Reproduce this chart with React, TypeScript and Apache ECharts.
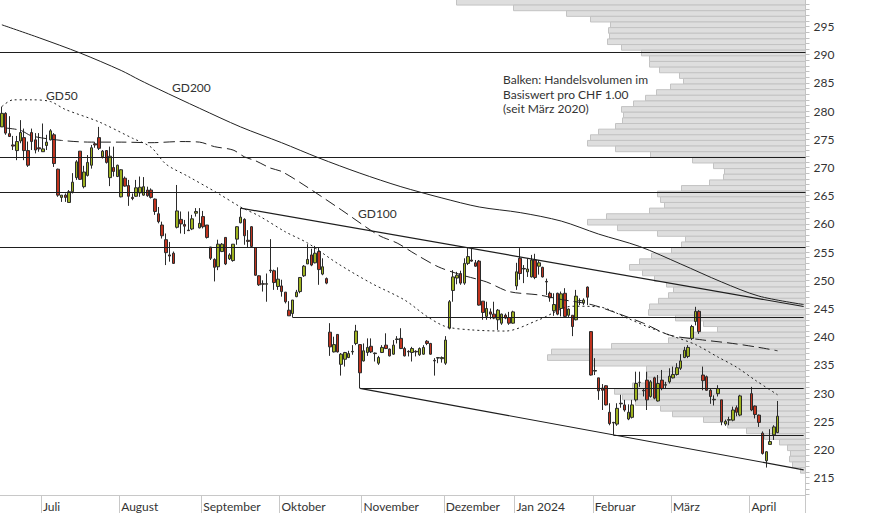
import React, { useEffect, useRef } from "react";
import * as echarts from "echarts";

// ---------- DATA ----------
// candles: [open, high, low, close]
const juneCandles = [
  [277.2, 280.8, 277.2, 279.6], [279.6, 279.8, 275.8, 276.1], [276.0, 279.1, 275.4, 275.5],
  [274.0, 275.6, 273.1, 273.8], [273.0, 275.6, 271.3, 274.6], [274.7, 278.4, 274.3, 276.2],
  [275.3, 276.9, 271.3, 273.0], [273.0, 274.6, 270.1, 270.4], [276.2, 276.9, 273.1, 274.6],
  [274.9, 276.1, 272.5, 273.1], [273.5, 276.1, 272.8, 273.3],
];
const julyCandles = [
  [272.8, 277.8, 272.8, 273.3], [273.9, 275.8, 273.1, 274.5], [274.9, 276.8, 274.8, 276.5],
  [275.8, 276.1, 270.1, 270.7], [269.7, 269.8, 264.8, 265.1], [264.7, 265.1, 263.9, 265.1],
  [265.1, 265.4, 263.9, 264.7], [263.8, 266.0, 263.8, 265.7], [265.7, 269.0, 265.4, 267.4],
  [268.2, 271.3, 267.8, 271.0], [272.9, 272.9, 267.8, 267.9], [266.6, 270.3, 266.3, 269.2],
  [268.6, 272.2, 268.4, 270.9], [270.4, 274.0, 269.8, 273.5], [274.2, 274.5, 273.5, 274.0],
  [275.3, 277.2, 273.1, 273.4], [271.9, 273.1, 271.6, 272.9], [273.0, 273.1, 270.7, 270.9],
  [268.2, 273.7, 266.7, 272.0], [270.0, 273.7, 268.4, 269.3], [268.4, 270.5, 268.3, 270.4],
];
const augustCandles = [
  [264.8, 269.7, 264.7, 269.6], [268.1, 268.4, 266.6, 266.7], [266.8, 267.8, 263.2, 264.9],
  [264.7, 265.4, 264.2, 264.5], [264.9, 267.8, 264.8, 266.4], [265.5, 268.4, 264.8, 266.5],
  [265.1, 268.3, 265.0, 266.6], [266.0, 266.6, 264.8, 265.0], [266.0, 266.3, 264.5, 264.7],
  [264.4, 264.5, 261.6, 262.2], [261.8, 263.0, 260.1, 260.4], [259.8, 260.4, 257.4, 257.9],
  [257.2, 258.3, 252.7, 254.9], [254.5, 256.8, 253.3, 254.3], [254.8, 255.1, 252.9, 253.0],
  [259.4, 266.9, 259.2, 262.3], [260.8, 262.2, 258.3, 260.0], [259.9, 260.7, 258.2, 259.6],
  [258.9, 262.2, 258.8, 258.8], [259.1, 261.6, 258.9, 260.9], [261.9, 262.8, 261.3, 262.2],
  [259.3, 262.8, 259.2, 260.1],
];
const septemberCandles = [
  [261.3, 262.3, 259.2, 259.5], [259.8, 259.8, 257.4, 257.6], [255.9, 255.9, 253.6, 253.9],
  [253.7, 253.9, 249.8, 252.3], [252.4, 257.2, 251.8, 256.4], [255.1, 256.6, 255.0, 256.4],
  [257.6, 257.6, 252.7, 252.9], [253.8, 254.8, 253.6, 254.5], [253.5, 256.4, 253.3, 256.4],
  [257.3, 259.6, 256.3, 259.5], [260.2, 262.8, 260.1, 261.2], [260.8, 261.0, 256.3, 257.9],
  [257.1, 258.9, 255.9, 256.9], [259.5, 259.6, 255.8, 256.0], [255.8, 255.8, 250.8, 250.9],
  [250.8, 250.9, 249.0, 249.2], [249.4, 250.0, 248.0, 249.3], [249.3, 251.2, 246.2, 249.4],
  [251.8, 257.3, 251.3, 251.7], [251.7, 251.9, 248.3, 249.6], [248.9, 252.3, 248.3, 250.2],
];
const octoberCandles = [
  [249.0, 250.1, 247.1, 248.0], [247.9, 247.9, 245.9, 246.2], [244.7, 246.3, 243.7, 243.7],
  [244.1, 246.5, 243.4, 246.5], [247.1, 248.3, 247.0, 247.9], [248.0, 250.5, 247.7, 250.5],
  [250.8, 252.7, 250.6, 252.5], [252.9, 256.4, 252.9, 253.7], [254.5, 255.6, 252.5, 252.7],
  [253.1, 256.1, 253.0, 254.8], [255.1, 255.8, 249.2, 251.9], [251.1, 253.9, 250.9, 252.4],
  [250.3, 250.5, 249.3, 249.5], [240.8, 242.4, 236.6, 238.2], [237.3, 240.0, 237.2, 238.6],
  [240.4, 240.4, 237.2, 237.3], [235.1, 237.1, 233.1, 236.9], [236.0, 237.3, 234.7, 237.2],
  [236.3, 237.5, 236.2, 237.0], [237.3, 238.5, 236.8, 237.4], [238.8, 242.1, 238.5, 241.0],
  [238.6, 238.6, 230.85, 233.6],
];
const novemberCandles = [
  [235.7, 238.8, 235.6, 237.5], [237.2, 239.7, 236.6, 238.1], [238.3, 239.7, 237.1, 237.3],
  [237.1, 237.2, 235.6, 237.0], [235.3, 236.6, 235.0, 236.3], [237.2, 238.5, 237.1, 238.1],
  [238.5, 240.6, 237.8, 237.9], [237.8, 237.9, 236.5, 236.6], [236.9, 239.4, 236.8, 238.5],
  [239.5, 240.1, 238.8, 239.6], [239.7, 241.5, 237.8, 237.9], [237.9, 238.2, 236.5, 236.6],
  [237.4, 237.6, 236.5, 237.3], [237.2, 238.2, 235.6, 237.9], [237.4, 237.6, 236.5, 237.3],
  [236.8, 238.1, 236.6, 237.9], [236.9, 238.5, 236.8, 238.1], [239.2, 239.4, 238.5, 238.8],
  [238.8, 238.9, 236.8, 236.9], [235.8, 236.2, 233.1, 235.7], [236.2, 236.4, 235.3, 236.3],
  [236.1, 236.5, 235.4, 236.3],
];
const decemberCandles = [
  [235.3, 240.1, 235.0, 239.4], [241.5, 246.5, 241.3, 246.2], [248.2, 251.8, 246.2, 250.6],
  [250.4, 251.5, 249.3, 250.9], [251.2, 251.7, 249.2, 249.5], [249.5, 253.9, 249.2, 253.0],
  [253.0, 255.7, 252.7, 254.2], [253.6, 255.7, 253.3, 253.4], [253.1, 253.6, 252.4, 252.5],
  [253.4, 253.6, 245.5, 245.6], [246.3, 246.3, 243.0, 244.3], [243.6, 246.2, 243.0, 245.0],
  [244.4, 245.0, 243.1, 244.0], [244.0, 246.2, 243.1, 243.3], [243.0, 244.9, 241.2, 244.7],
  [242.4, 244.1, 242.1, 244.0], [243.8, 244.1, 243.1, 243.3], [243.4, 244.4, 242.1, 242.4],
  [242.4, 244.6, 242.3, 244.4],
];
const januaryCandles = [
  [249.0, 253.1, 248.3, 251.5], [253.9, 255.7, 250.1, 251.2], [252.1, 252.7, 249.5, 252.0],
  [251.5, 253.9, 250.6, 252.0], [250.6, 254.5, 250.5, 253.6], [253.6, 254.7, 250.2, 250.5],
  [252.5, 253.6, 251.0, 253.1], [252.3, 252.4, 250.5, 250.6], [249.8, 250.3, 247.4, 249.7],
  [247.7, 248.0, 246.2, 246.9], [244.6, 247.7, 243.7, 245.7], [247.7, 247.8, 243.8, 244.0],
  [245.0, 248.0, 243.6, 247.6], [247.7, 248.6, 243.4, 243.6], [243.8, 245.0, 243.4, 244.9],
  [243.8, 243.8, 240.1, 241.8], [243.0, 248.3, 242.9, 247.2], [246.4, 246.8, 245.6, 246.4],
  [246.0, 246.8, 245.6, 246.5], [248.8, 248.9, 245.6, 247.0], [240.9, 241.0, 233.1, 233.2],
];
const februaryCandles = [
  [234.0, 236.2, 233.2, 233.9], [232.7, 232.7, 228.8, 230.4], [230.9, 231.6, 227.0, 230.5],
  [231.3, 231.4, 227.8, 227.9], [226.6, 228.2, 224.3, 224.6], [224.8, 224.9, 222.6, 224.7],
  [224.5, 228.2, 224.2, 227.3], [228.2, 229.7, 227.4, 228.1], [227.9, 228.8, 226.7, 227.0],
  [225.4, 228.0, 225.2, 226.6], [225.7, 228.8, 225.5, 227.9], [228.8, 233.8, 228.5, 231.7],
  [231.9, 233.8, 231.1, 231.9], [230.5, 230.9, 229.4, 230.4], [232.3, 233.8, 227.0, 228.8],
  [229.4, 232.3, 229.2, 232.0], [232.7, 232.9, 228.9, 229.1], [228.6, 233.2, 228.5, 231.7],
  [232.3, 234.1, 230.5, 230.8], [231.4, 232.0, 230.8, 231.5], [232.0, 234.4, 231.7, 233.0],
];
const marchCandles = [
  [232.7, 234.7, 232.6, 233.3], [233.3, 235.3, 233.1, 234.5], [234.4, 236.9, 234.1, 235.7],
  [236.3, 238.2, 236.2, 237.6], [236.5, 238.5, 236.2, 238.1], [239.7, 242.1, 239.4, 241.8],
  [242.7, 245.3, 242.0, 244.5], [244.5, 244.7, 240.5, 240.9], [233.2, 234.7, 230.5, 232.2],
  [232.9, 233.1, 230.4, 230.5], [230.5, 230.8, 228.1, 229.4], [228.9, 229.6, 227.8, 228.8],
  [229.9, 231.4, 229.4, 230.8], [228.8, 228.8, 224.3, 224.9], [224.5, 225.3, 224.2, 225.0],
  [225.2, 225.8, 224.3, 225.3], [225.2, 227.6, 225.0, 227.0], [227.4, 227.8, 225.9, 226.6],
  [226.1, 229.7, 225.9, 229.5], null, null,
];
const aprilCandles = [
  [229.9, 231.1, 226.8, 227.0], [227.7, 227.8, 225.5, 226.2], [226.1, 226.2, 224.0, 224.8],
  [222.9, 223.2, 219.1, 219.3], [218.0, 219.7, 216.8, 219.6], [220.9, 223.6, 220.9, 221.4],
  [222.6, 224.3, 221.7, 224.0], [223.0, 228.6, 222.9, 225.9],
];

// moving averages (trading-day slot index, value)
const gd50Slots = [0, 3, 8, 13, 17, 26, 35, 40, 44, 50, 58, 64, 69, 76, 82, 90, 99, 108, 114, 119, 126, 135, 144, 153, 160, 168, 173, 179, 186, 192, 197, 202, 208];
const gd50Values = [280.8, 282.0, 282.0, 281.7, 280.3, 278.1, 275.2, 273.6, 270.6, 268.4, 265.4, 263.0, 261.4, 258.6, 256.6, 253.0, 249.5, 246.5, 243.6, 241.8, 241.2, 241.0, 243.0, 245.4, 245.3, 243.2, 241.8, 240.3, 238.6, 236.4, 234.6, 232.3, 229.7];
const gd100Slots = [1, 5, 8, 16, 24, 32, 40, 48, 53, 57, 62, 65, 68, 72, 75, 81, 91, 101, 106, 111, 117, 123, 130, 136, 144, 150, 158, 164, 172, 179, 187, 196, 203, 208];
const gd100Values = [277.0, 276.6, 275.6, 274.8, 274.5, 274.5, 274.4, 274.6, 274.5, 273.7, 273.1, 271.9, 271.2, 269.9, 269.3, 266.9, 262.5, 258.0, 256.6, 254.6, 252.4, 251.0, 249.7, 248.0, 247.4, 246.6, 245.7, 244.4, 242.4, 240.3, 239.5, 238.8, 238.1, 237.5];
const gd200Slots = [0, 10, 21, 32, 37, 42, 53, 64, 75, 85, 96, 107, 118, 128, 139, 150, 160, 171, 182, 193, 203, 215];
const gd200Values = [295.3, 293.0, 290.3, 287.2, 285.5, 283.9, 280.5, 277.2, 274.4, 271.7, 269.0, 266.6, 264.6, 263.0, 262.0, 260.5, 258.2, 256.0, 252.9, 249.7, 247.2, 245.7];

// volume profile (price level, traded volume per CHF 1.00)
const volumeLevels = [
  299, 298, 297, 296, 295, 294, 293, 292, 291, 290, 289, 288, 287, 286, 285, 284, 283, 282, 281, 280,
  279, 278, 277, 276, 275, 274, 273, 272, 271, 270, 269, 268, 267, 266, 265, 264, 263, 262, 261, 260,
  259, 258, 257, 256, 255, 254, 253, 252, 251, 250, 249, 248, 247, 246, 245, 244, 243, 242, 241, 240,
  239, 238, 237, 236, 235, 234, 233, 232, 231, 230, 229, 228, 227, 226, 225, 224, 223, 222, 221, 220,
  219, 218, 217, 216,
];
const volumeAmounts = [
  349, 292, 239, 215, 195, 197, 196, 198, 184, 164, 156, 156, 146, 126, 122, 135, 149, 160, 172, 184,
  182, 183, 190, 207, 215, 218, 190, 155, 113, 92, 81, 82, 96, 124, 148, 145, 141, 156, 199, 218,
  188, 148, 120, 124, 134, 154, 166, 176, 163, 151, 139, 132, 137, 147, 156, 157, 130, 102, 88, 112,
  137, 194, 254, 258, 214, 159, 158, 159, 173, 191, 183, 170, 145, 133, 102, 78, 59, 41, 26, 18,
  15, 16, 13, 5,
];

// support / resistance levels and trend lines
const levelValues = [290.45, 271.8, 265.6, 255.85, 243.4, 230.85, 222.6];
const levelStartSlots = [-1, -1, -1, -1, 78, 96, 164];
const trendStartSlots = [64, 96];
const trendStartValues = [262.8, 230.85];
const trendEndSlots = [215, 215];
const trendEndValues = [245.35, 216.4];

const priceLabels = [215, 220, 225, 230, 235, 240, 245, 250, 255, 260, 265, 270, 275, 280, 285, 290, 295];
const monthNames: Record<string, string> = {
  "2023-07": "Juli", "2023-08": "August", "2023-09": "September", "2023-10": "Oktober",
  "2023-11": "November", "2023-12": "Dezember", "2024-01": "Jan 2024", "2024-02": "Februar",
  "2024-03": "März", "2024-04": "April",
};
const closedDays = ["2023-08-01", "2023-12-25", "2023-12-26", "2024-01-01", "2024-01-02", "2024-04-01"];
const noteLines = ["Balken: Handelsvolumen im", "Basiswert pro CHF 1.00", "(seit März 2020)"];

// ---------- HELPERS ----------
const Y_MIN = 211.93;
const Y_MAX = 299.7;
const FONT = 'Lato, "Noto Sans", sans-serif';

function buildSlots(): string[] {
  const out: string[] = [];
  let t = Date.UTC(2023, 5, 16);
  const end = Date.UTC(2024, 3, 22);
  while (t <= end) {
    const d = new Date(t);
    const wd = d.getUTCDay();
    const s = d.toISOString().slice(0, 10);
    if (wd !== 0 && wd !== 6 && !closedDays.includes(s)) out.push(s);
    t += 86400000;
  }
  return out;
}

function buildOption() {
  const slots = buildSlots();
  const monthStarts = new Set<number>();
  slots.forEach((s, i) => {
    if (i > 0 && s.slice(0, 7) !== slots[i - 1].slice(0, 7)) monthStarts.add(i);
  });
  const all = [
    ...juneCandles, ...julyCandles, ...augustCandles, ...septemberCandles, ...octoberCandles,
    ...novemberCandles, ...decemberCandles, ...januaryCandles, ...februaryCandles, ...marchCandles,
    ...aprilCandles,
  ];
  const candleData = all.map((c: any) => (c ? [c[0], c[3], c[2], c[1]] : ["-", "-", "-", "-"]));
  const minorTicks: number[] = [];
  for (let v = 212; v <= 299; v++) minorTicks.push(v);
  const lastSlot = slots.length - 1;

  const markLines: any[] = [];
  levelValues.forEach((v, i) => {
    if (levelStartSlots[i] < 0) markLines.push({ yAxis: v });
    else markLines.push([{ coord: [levelStartSlots[i], v] }, { coord: [lastSlot, v] }]);
  });
  trendStartSlots.forEach((s, i) => {
    markLines.push([{ coord: [s, trendStartValues[i]] }, { coord: [trendEndSlots[i], trendEndValues[i]] }]);
  });

  const lineColor = "#222";
  const maSeries = (name: string, xs: number[], ys: number[], type: any) => ({
    name,
    type: "line",
    xAxisIndex: 0,
    yAxisIndex: 0,
    data: xs.map((x, i) => [x, ys[i]]),
    showSymbol: false,
    smooth: 0.3,
    silent: true,
    z: 5,
    lineStyle: { color: lineColor, width: 1, type },
  });

  const text = (t: string, x: number, y: number) => ({
    type: "text",
    x,
    y,
    silent: true,
    z: 20,
    style: { text: t, fill: "#333", fontSize: 12, fontFamily: FONT, textVerticalAlign: "middle" },
  });

  return {
    animation: false,
    backgroundColor: "#fff",
    textStyle: { fontFamily: FONT },
    grid: { left: 0, right: 68.5, top: 0, bottom: 20, containLabel: false },
    xAxis: [
      {
        type: "category",
        data: slots,
        boundaryGap: true,
        axisLine: { show: true, lineStyle: { color: "#c8c8c8", width: 1 } },
        axisTick: {
          show: true,
          interval: (i: number) => monthStarts.has(i),
          length: 18,
          lineStyle: { color: "#c8c8c8" },
        },
        axisLabel: {
          interval: (i: number) => monthStarts.has(i),
          formatter: (v: string) => monthNames[v.slice(0, 7)] || "",
          align: "left",
          margin: 5,
          color: "#333",
          fontSize: 12,
          fontFamily: FONT,
        },
        splitLine: { show: false },
      },
      { type: "value", gridIndex: 0, inverse: true, min: 0, max: 805.5, show: false },
    ],
    yAxis: [
      {
        type: "value",
        position: "right",
        min: Y_MIN,
        max: Y_MAX,
        axisLine: { show: true, lineStyle: { color: "#c8c8c8" } },
        axisTick: { show: true, customValues: minorTicks, length: 4, lineStyle: { color: "#c0c0c0" } },
        axisLabel: { customValues: priceLabels, margin: 8, color: "#333", fontSize: 12, fontFamily: FONT },
        splitLine: { show: false },
      },
    ],
    series: [
      {
        type: "custom",
        xAxisIndex: 1,
        yAxisIndex: 0,
        silent: true,
        clip: true,
        z: 1,
        encode: { x: 0, y: 1 },
        data: volumeLevels.map((l, i) => [volumeAmounts[i], l]),
        renderItem: (params: any, api: any) => {
          const vol = api.value(0);
          const lvl = api.value(1);
          const a = api.coord([vol, lvl + 0.8]);
          const b = api.coord([0, lvl - 0.2]);
          return {
            type: "rect",
            shape: { x: a[0], y: a[1], width: b[0] - a[0], height: b[1] - a[1] },
            style: { fill: "#dedede", stroke: "#c3c3c3", lineWidth: 1 },
          };
        },
      },
      {
        type: "candlestick",
        xAxisIndex: 0,
        yAxisIndex: 0,
        data: candleData,
        barWidth: 3,
        silent: true,
        z: 4,
        itemStyle: {
          color: "#9db21e",
          color0: "#c0331e",
          borderColor: "#2b2b2b",
          borderColor0: "#2b2b2b",
          borderWidth: 1,
        },
        markLine: {
          silent: true,
          symbol: ["none", "none"],
          label: { show: false },
          lineStyle: { color: "#1e1e1e", width: 1.2, type: "solid" },
          emphasis: { disabled: true },
          data: markLines,
        },
      },
      maSeries("GD200", gd200Slots, gd200Values, "solid"),
      maSeries("GD100", gd100Slots, gd100Values, [11, 5]),
      maSeries("GD50", gd50Slots, gd50Values, [2, 3]),
    ],
    graphic: [
      text("GD50", 46, 95),
      text("GD200", 172, 87),
      text("GD100", 358, 213),
      ...noteLines.map((t, i) => text(t, 503, 79.5 + i * 14.5)),
    ],
  };
}

export default function App() {
  const ref = useRef<HTMLDivElement>(null);
  useEffect(() => {
    if (!ref.current) return;
    const chart = echarts.init(ref.current, undefined, { renderer: "svg" });
    chart.setOption(buildOption() as any);
    return () => chart.dispose();
  }, []);
  return (
    <div
      ref={ref}
      style={{ position: "fixed", left: 0, top: 0, width: 874, height: 515, background: "#fff" }}
    />
  );
}
